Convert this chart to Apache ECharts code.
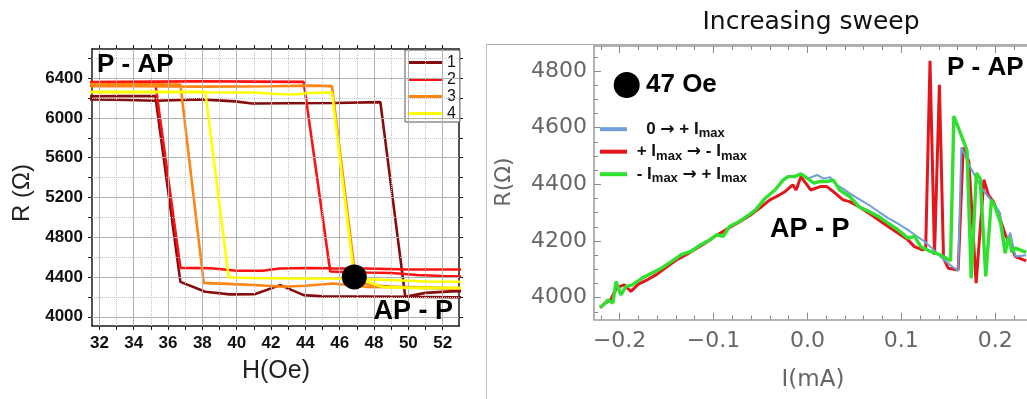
<!DOCTYPE html>
<html><head><meta charset="utf-8">
<script src="https://cdn.jsdelivr.net/npm/echarts@6/dist/echarts.min.js"></script>
<style>html,body{margin:0;padding:0;background:#fff}#c{width:1027px;height:399px}</style>
</head><body><div id="c"></div>
<script>
// ---------- Left panel: R vs H hysteresis loops ----------
const loopNames = ['1', '2', '3', '4'];
const loop1H = [31, 33, 35.3, 37.9, 39.9, 40.9, 43, 45.7, 48.37, 49.82, 51, 52.5, 54, 54, 52.5, 50, 47.5, 45, 43.9, 42.54, 41.08, 39.6, 38.17, 36.72, 35.26, 33, 31];
const loop1R = [6186, 6183, 6172, 6186, 6166, 6145, 6148, 6150, 6159, 4201, 4240, 4255, 4258, 4195, 4196, 4201, 4203, 4205, 4218, 4318, 4228, 4225, 4251, 4351, 6219, 6220, 6215];
const loop2H = [31, 35.3, 38, 41, 43.9, 45.45, 47.5, 49, 50.5, 52, 54, 54, 50, 47.5, 45.45, 44, 42.5, 41.5, 40, 38.5, 36.72, 35.26, 31];
const loop2R = [6360, 6365, 6368, 6365, 6362, 4455, 4445, 4440, 4420, 4410, 4400, 4475, 4475, 4485, 4488, 4490, 4485, 4462, 4462, 4488, 4492, 6344, 6344];
const loop3H = [31, 34, 38, 42, 44.2, 45.55, 46.95, 48.5, 50, 52, 54, 54, 52, 50, 47.5, 45.6, 44, 42.7, 41, 39.8, 38.08, 36.72, 35, 31];
const loop3R = [6318, 6320, 6315, 6318, 6325, 6320, 4345, 4310, 4295, 4285, 4280, 4290, 4292, 4298, 4301, 4335, 4312, 4301, 4320, 4328, 4341, 6335, 6337, 6340];
const loop4H = [31, 35, 38, 41, 42.3, 43.5, 44.2, 45.55, 46.85, 48.5, 50, 52, 54, 54, 51, 49, 47, 45, 43, 41, 39.53, 38.17, 35, 31];
const loop4R = [6259, 6259, 6258, 6255, 6240, 6237, 6250, 6255, 4395, 4300, 4290, 4290, 4290, 4350, 4355, 4370, 4380, 4385, 4385, 4390, 4395, 6262, 6262, 6262];
const dotH = [46.85];
const dotR = [4401];
const hLabels = [32, 34, 36, 38, 40, 42, 44, 46, 48, 50, 52];
const hTicks = [32, 33, 34, 35, 36, 37, 38, 39, 40, 41, 42, 43, 44, 45, 46, 47, 48, 49, 50, 51, 52];
const hGridMajor = [32, 34, 36, 38, 40, 42, 44, 46, 48, 50, 52];
const hGridMinor = [33, 35, 37, 39, 41, 43, 45, 47, 49, 51];
const rLabels = [4000, 4400, 4800, 5200, 5600, 6000, 6400];
const rTicks = [4000, 4200, 4400, 4600, 4800, 5000, 5200, 5400, 5600, 5800, 6000, 6200, 6400, 6600];
const rGridMajor = [4000, 4400, 4800, 5200, 5600, 6000, 6400];
const rGridMinor = [4200, 4600, 5000, 5400, 5800, 6200, 6600];

// ---------- Right panel: R vs I (increasing sweep) ----------
const sweepNames = ['0 → + Imax', '+ Imax → - Imax', '- Imax → + Imax'];
const blueI = [0.0, 0.0104, 0.017, 0.0242, 0.031, 0.038, 0.045, 0.055, 0.0656, 0.076, 0.0864, 0.097, 0.107, 0.117, 0.124, 0.131, 0.140, 0.148, 0.154, 0.1606, 0.164, 0.172, 0.180, 0.186, 0.193, 0.200, 0.205, 0.2107, 0.216, 0.2215, 0.233];
const blueR = [4420, 4433, 4420, 4425, 4398, 4385, 4368, 4348, 4327, 4303, 4280, 4260, 4239, 4216, 4200, 4180, 4150, 4127, 4110, 4095, 4530, 4470, 4420, 4385, 4355, 4325, 4300, 4175, 4230, 4145, 4150];
const redI = [-0.221, -0.215, -0.210, -0.2038, -0.2003, -0.195, -0.188, -0.180, -0.170, -0.160, -0.150, -0.140, -0.130, -0.120, -0.110, -0.100, -0.090, -0.080, -0.070, -0.060, -0.050, -0.040, -0.030, -0.024, -0.0155, -0.012, -0.0069, -0.002, 0.0035, 0.0138, 0.0207, 0.0276, 0.038, 0.045, 0.055, 0.0656, 0.076, 0.086, 0.0967, 0.107, 0.114, 0.1226, 0.126, 0.1306, 0.1354, 0.1406, 0.145, 0.150, 0.1606, 0.166, 0.172, 0.1797, 0.188, 0.193, 0.198, 0.205, 0.211, 0.216, 0.2215, 0.233];
const redR = [3965, 3982, 3990, 4030, 4039, 4045, 4022, 4048, 4064, 4083, 4108, 4132, 4150, 4170, 4190, 4213, 4233, 4253, 4272, 4293, 4318, 4345, 4362, 4374, 4398, 4380, 4427, 4405, 4380, 4392, 4392, 4374, 4345, 4339, 4321, 4298, 4274, 4251, 4227, 4204, 4180, 4169, 4174, 4836, 4151, 4751, 4139, 4104, 4098, 4530, 4480, 4051, 4416, 4360, 4340, 4280, 4220, 4190, 4145, 4130];
const greenI = [-0.2205, -0.2155, -0.2124, -0.2072, -0.2038, -0.1986, -0.1934, -0.1865, -0.176, -0.166, -0.1554, -0.145, -0.1347, -0.1243, -0.114, -0.1036, -0.0967, -0.0898, -0.0829, -0.0725, -0.0622, -0.0553, -0.0449, -0.0345, -0.0259, -0.0207, -0.0138, -0.0069, 0.0, 0.0069, 0.0138, 0.0207, 0.0276, 0.0345, 0.045, 0.055, 0.0656, 0.076, 0.086, 0.0967, 0.107, 0.114, 0.1209, 0.131, 0.1416, 0.148, 0.1525, 0.156, 0.170, 0.1745, 0.180, 0.184, 0.190, 0.196, 0.200, 0.206, 0.2107, 0.214, 0.218, 0.2215, 0.233];
const greenR = [3965, 3980, 3992, 3981, 4057, 4010, 4039, 4045, 4069, 4086, 4104, 4127, 4151, 4163, 4186, 4204, 4222, 4216, 4251, 4269, 4292, 4310, 4351, 4380, 4415, 4427, 4427, 4437, 4421, 4404, 4410, 4410, 4415, 4380, 4357, 4321, 4304, 4286, 4263, 4239, 4210, 4216, 4180, 4163, 4151, 4139, 4130, 4641, 4520, 4069, 4440, 4420, 4075, 4345, 4320, 4260, 4157, 4215, 4160, 4175, 4160];
const iLabels = [-0.2, -0.1, 0.0, 0.1, 0.2];
const iMajorTicks = [-0.2, -0.1, 0.0, 0.1, 0.2];
const iMinorTicks = [-0.22, -0.18, -0.16, -0.14, -0.12, -0.08, -0.06, -0.04, -0.02, 0.02, 0.04, 0.06, 0.08, 0.12, 0.14, 0.16, 0.18, 0.22];
const rrLabels = [4000, 4200, 4400, 4600, 4800];
const rrMinorTicks = [3950, 4050, 4100, 4150, 4250, 4300, 4350, 4450, 4500, 4550, 4650, 4700, 4750, 4850];

const zip = (a, b) => a.map((v, i) => [v, b[i]]);
const chart = echarts.init(document.getElementById('c'), null, {renderer: 'canvas'});

const LF = 'Liberation Sans';
const DF = 'DejaVu Sans';
const loopColors = ['#860d0d', '#ff1010', '#ff8410', '#ffff00'];
const sweepColors = ['#6f9fd8', '#e3161c', '#2fe02f'];
const loopData = [zip(loop1H, loop1R), zip(loop2H, loop2R), zip(loop3H, loop3R), zip(loop4H, loop4R)];

const gridLines = [].concat(
  hGridMajor.map(v => ({xAxis: v, lineStyle: {color: '#b2b2b2', type: 'solid', width: 1}})),
  hGridMinor.map(v => ({xAxis: v, lineStyle: {color: '#c4c4c4', type: 'dotted', width: 1}})),
  rGridMajor.map(v => ({yAxis: v, lineStyle: {color: '#b2b2b2', type: 'solid', width: 1}})),
  rGridMinor.map(v => ({yAxis: v, lineStyle: {color: '#c4c4c4', type: 'dotted', width: 1}}))
);

const leftAxisLine = {show: true, onZero: false, lineStyle: {color: '#1a1a1a', width: 1.5}};
const rightAxisLine = {show: true, onZero: false, lineStyle: {color: '#9a9a9a', width: 1.5}};
const noLine = {show: false, onZero: false};
const plain = v => String(v);

const subFmt = {
  '0 → + Imax': '{t|   0 }{a|→}{t| + I}{s|max}',
  '+ Imax → - Imax': '{t| + I}{s|max}{t| }{a|→}{t| - I}{s|max}',
  '- Imax → + Imax': '{t| - I}{s|max}{t| }{a|→}{t| + I}{s|max}'
};

const option = {
  animation: false,
  backgroundColor: '#fff',
  grid: [
    {left: 92, top: 49, right: 568, bottom: 73},
    {left: 594, top: 46, right: -12, bottom: 79.5}
  ],
  xAxis: [
    {gridIndex: 0, type: 'value', position: 'bottom', min: 31.57, max: 52.95,
     axisLine: leftAxisLine, splitLine: {show: false},
     axisTick: {show: true, inside: false, length: 4, customValues: hTicks, lineStyle: {color: '#1a1a1a', width: 1}},
     axisLabel: {customValues: hLabels, formatter: plain, margin: 9, color: '#111', fontFamily: LF, fontWeight: 'bold', fontSize: 17}},
    {gridIndex: 0, type: 'value', position: 'top', min: 31.57, max: 52.95,
     axisLine: leftAxisLine, splitLine: {show: false},
     axisTick: {show: true, inside: false, length: 4, customValues: hTicks, lineStyle: {color: '#1a1a1a', width: 1}},
     axisLabel: {show: false}},
    {gridIndex: 1, type: 'value', position: 'bottom', min: -0.2273, max: 0.2339,
     axisLine: rightAxisLine, splitLine: {show: false},
     axisTick: {show: true, inside: true, length: 7, customValues: iMajorTicks, lineStyle: {color: '#8a8a8a', width: 1}},
     axisLabel: {customValues: iLabels, margin: 11, color: '#666', fontFamily: DF, fontSize: 22,
       formatter: v => (v < -1e-9 ? '−' : '') + Math.abs(v).toFixed(1)}},
    {gridIndex: 1, type: 'value', position: 'bottom', min: -0.2273, max: 0.2339,
     axisLine: noLine, splitLine: {show: false},
     axisTick: {show: true, inside: true, length: 4, customValues: iMinorTicks, lineStyle: {color: '#8a8a8a', width: 1}},
     axisLabel: {show: false}},
    {gridIndex: 1, type: 'value', position: 'top', min: -0.2273, max: 0.2339,
     axisLine: rightAxisLine, splitLine: {show: false},
     axisTick: {show: true, inside: true, length: 7, customValues: iMajorTicks, lineStyle: {color: '#8a8a8a', width: 1}},
     axisLabel: {show: false}},
    {gridIndex: 1, type: 'value', position: 'top', min: -0.2273, max: 0.2339,
     axisLine: noLine, splitLine: {show: false},
     axisTick: {show: true, inside: true, length: 4, customValues: iMinorTicks, lineStyle: {color: '#8a8a8a', width: 1}},
     axisLabel: {show: false}}
  ],
  yAxis: [
    {gridIndex: 0, type: 'value', position: 'left', min: 3907, max: 6693,
     axisLine: leftAxisLine, splitLine: {show: false},
     axisTick: {show: true, inside: false, length: 4, customValues: rTicks, lineStyle: {color: '#1a1a1a', width: 1}},
     axisLabel: {customValues: rLabels, formatter: plain, margin: 9, color: '#111', fontFamily: LF, fontWeight: 'bold', fontSize: 17}},
    {gridIndex: 0, type: 'value', position: 'right', min: 3907, max: 6693,
     axisLine: leftAxisLine, splitLine: {show: false},
     axisTick: {show: true, inside: false, length: 4, customValues: rTicks, lineStyle: {color: '#1a1a1a', width: 1}},
     axisLabel: {show: false}},
    {gridIndex: 1, type: 'value', position: 'left', min: 3923, max: 4888,
     axisLine: rightAxisLine, splitLine: {show: false},
     axisTick: {show: true, inside: true, length: 7, customValues: rrLabels, lineStyle: {color: '#8a8a8a', width: 1}},
     axisLabel: {customValues: rrLabels, formatter: plain, margin: 7, color: '#666', fontFamily: DF, fontSize: 22}},
    {gridIndex: 1, type: 'value', position: 'left', min: 3923, max: 4888,
     axisLine: noLine, splitLine: {show: false},
     axisTick: {show: true, inside: true, length: 4, customValues: rrMinorTicks, lineStyle: {color: '#8a8a8a', width: 1}},
     axisLabel: {show: false}}
  ],
  legend: [
    {data: loopNames, orient: 'vertical', left: 405, top: 50, icon: 'rect', itemWidth: 34, itemHeight: 3,
     itemGap: 0, padding: [4, 4, 0, 3], borderColor: '#555', borderWidth: 1, backgroundColor: '#fff',
     selectedMode: false, textStyle: {fontSize: 16, lineHeight: 17, color: '#111', fontFamily: LF}},
    {data: sweepNames, orient: 'vertical', left: 600, top: 120.7, icon: 'rect', itemWidth: 27, itemHeight: 4,
     itemGap: 3, padding: 0, selectedMode: false,
     formatter: n => subFmt[n],
     textStyle: {rich: {
       t: {fontSize: 17, fontWeight: 'bold', lineHeight: 22, fontFamily: LF, color: '#111'},
       a: {fontSize: 17, fontWeight: 'bold', lineHeight: 22, fontFamily: DF, color: '#111'},
       s: {fontSize: 13, fontWeight: 'bold', lineHeight: 13, verticalAlign: 'bottom', fontFamily: LF, color: '#111'}
     }}}
  ],
  series: [
    {type: 'line', name: 'grid', xAxisIndex: 0, yAxisIndex: 0, data: [], z: 1, silent: true,
     markLine: {silent: true, symbol: 'none', animation: false, label: {show: false}, data: gridLines}},
    ...loopData.map((d, i) => ({
      type: 'line', name: loopNames[i], xAxisIndex: 0, yAxisIndex: 0, data: d,
      showSymbol: false, symbol: 'none', clip: true, z: 2 + i,
      lineStyle: {color: loopColors[i], width: 2.6}, itemStyle: {color: loopColors[i]}
    })),
    {type: 'scatter', name: '47 Oe', xAxisIndex: 0, yAxisIndex: 0, data: zip(dotH, dotR),
     symbolSize: 25, itemStyle: {color: '#000', opacity: 1}, z: 10},
    {type: 'line', name: sweepNames[1], xAxisIndex: 2, yAxisIndex: 2, data: zip(redI, redR),
     showSymbol: false, symbol: 'none', z: 3, lineStyle: {color: sweepColors[1], width: 3}, itemStyle: {color: sweepColors[1]}},
    {type: 'line', name: sweepNames[0], xAxisIndex: 2, yAxisIndex: 2, data: zip(blueI, blueR),
     showSymbol: false, symbol: 'none', z: 4, lineStyle: {color: sweepColors[0], width: 2}, itemStyle: {color: sweepColors[0]}},
    {type: 'line', name: sweepNames[2], xAxisIndex: 2, yAxisIndex: 2, data: zip(greenI, greenR),
     showSymbol: false, symbol: 'none', z: 5, lineStyle: {color: sweepColors[2], width: 3.4}, itemStyle: {color: sweepColors[2]}}
  ],
  graphic: [
    {type: 'line', shape: {x1: 486, y1: 44.5, x2: 1027, y2: 44.5}, style: {stroke: '#aaa', lineWidth: 1}, z: 50},
    {type: 'line', shape: {x1: 486.5, y1: 44.5, x2: 486.5, y2: 399}, style: {stroke: '#c4c4c4', lineWidth: 1}, z: 50},
    {type: 'text', x: 811, y: 22, z: 50, style: {text: 'Increasing sweep', font: '25px "DejaVu Sans"', fill: '#111', align: 'center', verticalAlign: 'middle'}},
    {type: 'text', x: 22, y: 193, rotation: Math.PI / 2, z: 50, style: {text: 'R (Ω)', font: '24px "Liberation Sans"', fill: '#222', align: 'center', verticalAlign: 'middle'}},
    {type: 'text', x: 276, y: 371, z: 50, style: {text: 'H(Oe)', font: '25px "Liberation Sans"', fill: '#222', align: 'center', verticalAlign: 'middle'}},
    {type: 'text', x: 504, y: 182, rotation: Math.PI / 2, z: 50, style: {text: 'R(Ω)', font: '22px "DejaVu Sans"', fill: '#666', align: 'center', verticalAlign: 'middle'}},
    {type: 'text', x: 813, y: 380, z: 50, style: {text: 'I(mA)', font: '23px "DejaVu Sans"', fill: '#666', align: 'center', verticalAlign: 'middle'}},
    {type: 'text', x: 97, y: 65, z: 50, style: {text: 'P - AP', font: 'bold 26px "Liberation Sans"', fill: '#000', align: 'left', verticalAlign: 'middle'}},
    {type: 'text', x: 453, y: 312, z: 50, style: {text: 'AP - P', font: 'bold 27px "Liberation Sans"', fill: '#000', align: 'right', verticalAlign: 'middle'}},
    {type: 'circle', shape: {cx: 626.7, cy: 85, r: 13}, style: {fill: '#000'}, z: 50},
    {type: 'text', x: 646, y: 85, z: 50, style: {text: '47 Oe', font: 'bold 26px "Liberation Sans"', fill: '#000', align: 'left', verticalAlign: 'middle'}},
    {type: 'text', x: 770, y: 230, z: 50, style: {text: 'AP - P', font: 'bold 27px "Liberation Sans"', fill: '#000', align: 'left', verticalAlign: 'middle'}},
    {type: 'text', x: 947, y: 68, z: 50, style: {text: 'P - AP', font: 'bold 26px "Liberation Sans"', fill: '#000', align: 'left', verticalAlign: 'middle'}}
  ]
};
chart.setOption(option);
</script>
</body></html>
